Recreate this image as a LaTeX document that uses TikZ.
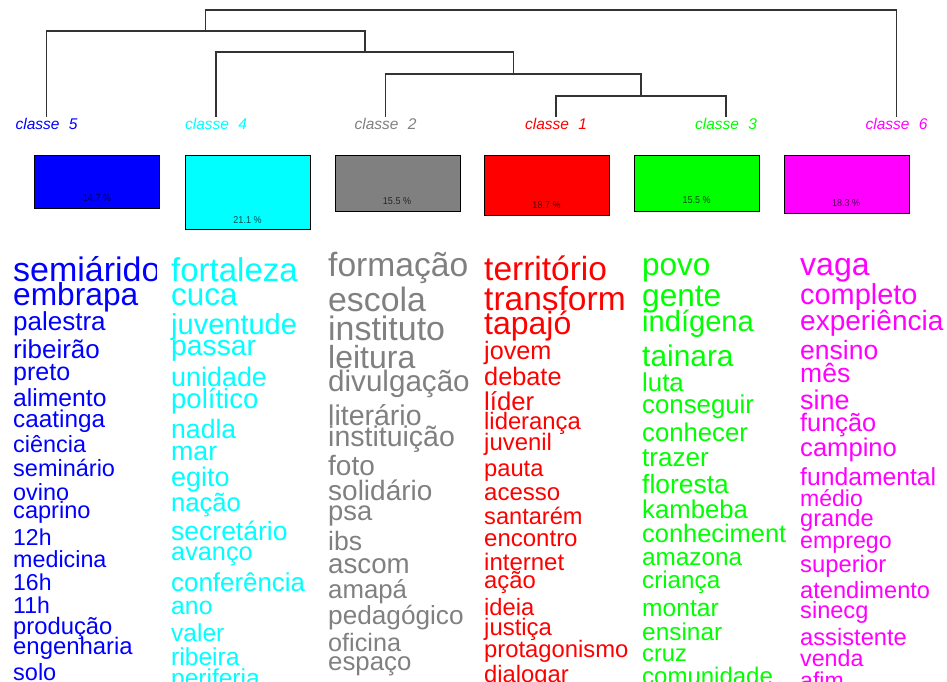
\documentclass[tikz,border=0pt]{standalone}
\usepackage{fontspec}
\setmainfont{Liberation Sans}
\newfontfamily\pctfont[FakeStretch=0.9]{Liberation Sans}

% class colours
\definecolor{cl1}{RGB}{255,0,0}
\definecolor{cl2}{RGB}{128,128,128}
\definecolor{cl3}{RGB}{0,255,0}
\definecolor{cl4}{RGB}{0,255,255}
\definecolor{cl5}{RGB}{0,0,255}
\definecolor{cl6}{RGB}{255,0,255}

\newcommand{\wsize}[1]{\fontsize{#1}{#1}\selectfont}

\begin{document}
\begin{tikzpicture}[x=1pt, y=-1pt,
  tree/.style={draw=black!80, line width=1.3pt},
  klabel/.style={anchor=base, inner sep=0pt, font=\wsize{15.5}\itshape},
  classbox/.style={draw=black, line width=1.2pt, anchor=north west, inner sep=0pt, minimum width=125pt},
  pct/.style={inner sep=0pt, font=\pctfont\wsize{10}, text=black, text opacity=0.7},
  word/.style={anchor=base west, inner sep=0pt}]
\useasboundingbox (0,0) rectangle (947,682);
\clip (0,0) rectangle (947,682);

% Class labels under the tree
\node[klabel, text=cl5] (k5) at (46.5,130) {classe\hspace{0.6em}5};
\node[klabel, text=cl4] (k4) at (216,130) {classe\hspace{0.6em}4};
\node[klabel, text=cl2] (k2) at (385.5,130) {classe\hspace{0.6em}2};
\node[klabel, text=cl1] (k1) at (556,130) {classe\hspace{0.6em}1};
\node[klabel, text=cl3] (k3) at (726,130) {classe\hspace{0.6em}3};
\node[klabel, text=cl6] (k6) at (896.5,130) {classe\hspace{0.6em}6};

% Tops of the leaves and the joins
\coordinate (t5) at (46.5,117);
\coordinate (t4) at (216,117);
\coordinate (t2) at (385.5,117);
\coordinate (t1) at (556,117);
\coordinate (t3) at (726,117);
\coordinate (t6) at (896.5,117);
\coordinate (j13) at (641,96);
\coordinate (j213) at (513.5,74);
\coordinate (j4213) at (365,52);
\coordinate (j54213) at (205.5,31);
\coordinate (jall) at (551,10);

% Draw the tree
\draw[tree] (t1) |- (j13) -| (t3);
\draw[tree] (t2) |- (j213) -| (j13);
\draw[tree] (t4) |- (j4213) -| (j213);
\draw[tree] (t5) |- (j54213) -| (j4213);
\draw[tree] (j54213) |- (jall) -| (t6);

% Boxes with the share of each class
\node[classbox, fill=cl5, minimum height=53pt] (b5) at (34,155) {};
\node[pct] (p5) at (97,198) {14.7 \%};
\node[classbox, fill=cl4, minimum height=74pt] (b4) at (185,155) {};
\node[pct] (p4) at (247.5,220) {21.1 \%};
\node[classbox, fill=cl2, minimum height=56pt] (b2) at (334.5,155) {};
\node[pct] (p2) at (397,201) {15.5 \%};
\node[classbox, fill=cl1, minimum height=60pt] (b1) at (484,155) {};
\node[pct] (p1) at (546.5,205) {18.7 \%};
\node[classbox, fill=cl3, minimum height=56pt] (b3) at (634,155) {};
\node[pct] (p3) at (696.5,200.5) {15.5 \%};
\node[classbox, fill=cl6, minimum height=58pt] (b6) at (783.5,155) {};
\node[pct] (p6) at (846,203.5) {18.3 \%};

% Words of classe 5
\begin{scope}
\clip (0,240) rectangle (156,682);
\node[word, text=cl5, font=\wsize{34}] (w5a) at (13,281.7) {semiárido};
\node[word, text=cl5, font=\wsize{31.7}] (w5b) at (13,305) {embrapa};
\node[word, text=cl5, font=\wsize{26}] (w5c) at (13,330.7) {palestra};
\node[word, text=cl5, font=\wsize{26}] (w5d) at (13,358.3) {ribeirão};
\node[word, text=cl5, font=\wsize{25}] (w5e) at (13,380) {preto};
\node[word, text=cl5, font=\wsize{24.7}] (w5f) at (13,406.7) {alimento};
\node[word, text=cl5, font=\wsize{24.3}] (w5g) at (13,427.7) {caatinga};
\node[word, text=cl5, font=\wsize{23.4}] (w5h) at (13,452) {ciência};
\node[word, text=cl5, font=\wsize{23.5}] (w5i) at (13,476.7) {seminário};
\node[word, text=cl5, font=\wsize{23.4}] (w5j) at (13,500) {ovino};
\node[word, text=cl5, font=\wsize{23.6}] (w5k) at (13,518.3) {caprino};
\node[word, text=cl5, font=\wsize{23}] (w5l) at (13,545) {12h};
\node[word, text=cl5, font=\wsize{23.3}] (w5m) at (13,567.3) {medicina};
\node[word, text=cl5, font=\wsize{23}] (w5n) at (13,590) {16h};
\node[word, text=cl5, font=\wsize{23}] (w5o) at (13,613.3) {11h};
\node[word, text=cl5, font=\wsize{23.8}] (w5p) at (13,634.3) {produção};
\node[word, text=cl5, font=\wsize{23.9}] (w5q) at (13,654) {engenharia};
\node[word, text=cl5, font=\wsize{23.5}] (w5r) at (13,680.5) {solo};
\end{scope}

% Words of classe 4
\node[word, text=cl4, font=\wsize{33}] (w4a) at (171,281.7) {fortaleza};
\node[word, text=cl4, font=\wsize{31.4}] (w4b) at (171,305.7) {cuca};
\node[word, text=cl4, font=\wsize{29}] (w4c) at (171,334.3) {juventude};
\node[word, text=cl4, font=\wsize{28.3}] (w4d) at (171,355) {passar};
\node[word, text=cl4, font=\wsize{26.9}] (w4e) at (171,386.7) {unidade};
\node[word, text=cl4, font=\wsize{27.5}] (w4f) at (171,408.3) {político};
\node[word, text=cl4, font=\wsize{26.6}] (w4g) at (171,438.3) {nadla};
\node[word, text=cl4, font=\wsize{26.7}] (w4h) at (171,460) {mar};
\node[word, text=cl4, font=\wsize{27}] (w4i) at (171,486.7) {egito};
\node[word, text=cl4, font=\wsize{25.6}] (w4j) at (171,511.7) {nação};
\node[word, text=cl4, font=\wsize{26.5}] (w4k) at (171,540) {secretário};
\node[word, text=cl4, font=\wsize{25.3}] (w4l) at (171,560) {avanço};
\node[word, text=cl4, font=\wsize{25.9}] (w4m) at (171,591.7) {conferência};
\node[word, text=cl4, font=\wsize{24.8}] (w4n) at (171,614) {ano};
\node[word, text=cl4, font=\wsize{24.5}] (w4o) at (171,641.7) {valer};
\node[word, text=cl4, font=\wsize{24.6}] (w4p) at (171,665) {ribeira};
\node[word, text=cl4, font=\wsize{24.5}] (w4q) at (171,686) {periferia};

% Words of classe 2
\node[word, text=cl2, font=\wsize{33.6}] (w2a) at (328,276) {formação};
\node[word, text=cl2, font=\wsize{33.8}] (w2b) at (328,311.7) {escola};
\node[word, text=cl2, font=\wsize{33.9}] (w2c) at (328,340) {instituto};
\node[word, text=cl2, font=\wsize{32}] (w2d) at (328,368.3) {leitura};
\node[word, text=cl2, font=\wsize{29.6}] (w2e) at (328,391.7) {divulgação};
\node[word, text=cl2, font=\wsize{28.5}] (w2f) at (328,425) {literário};
\node[word, text=cl2, font=\wsize{28.5}] (w2g) at (328,446.7) {instituição};
\node[word, text=cl2, font=\wsize{28}] (w2h) at (328,475) {foto};
\node[word, text=cl2, font=\wsize{28}] (w2i) at (328,500) {solidário};
\node[word, text=cl2, font=\wsize{27.3}] (w2j) at (328,520) {psa};
\node[word, text=cl2, font=\wsize{26.6}] (w2k) at (328,550) {ibs};
\node[word, text=cl2, font=\wsize{27.7}] (w2l) at (328,573.3) {ascom};
\node[word, text=cl2, font=\wsize{25.8}] (w2m) at (328,598.3) {amapá};
\node[word, text=cl2, font=\wsize{26.2}] (w2n) at (328,624) {pedagógico};
\node[word, text=cl2, font=\wsize{25.2}] (w2o) at (328,651.7) {oficina};
\node[word, text=cl2, font=\wsize{25.8}] (w2p) at (328,670) {espaço};

% Words of classe 1
\node[word, text=cl1, font=\wsize{33.5}] (w1a) at (484,280.7) {território};
\node[word, text=cl1, font=\wsize{33.5}] (w1b) at (484,310.7) {transform};
\node[word, text=cl1, font=\wsize{32}] (w1c) at (484,334) {tapajó};
\node[word, text=cl1, font=\wsize{25.2}] (w1d) at (484,359) {jovem};
\node[word, text=cl1, font=\wsize{25.3}] (w1e) at (484,385) {debate};
\node[word, text=cl1, font=\wsize{25.7}] (w1f) at (484,410) {líder};
\node[word, text=cl1, font=\wsize{23.8}] (w1g) at (484,429.3) {liderança};
\node[word, text=cl1, font=\wsize{23.9}] (w1h) at (484,450.7) {juvenil};
\node[word, text=cl1, font=\wsize{23.7}] (w1i) at (484,476.7) {pauta};
\node[word, text=cl1, font=\wsize{24}] (w1j) at (484,500) {acesso};
\node[word, text=cl1, font=\wsize{23.6}] (w1k) at (484,524) {santarém};
\node[word, text=cl1, font=\wsize{24}] (w1l) at (484,546.7) {encontro};
\node[word, text=cl1, font=\wsize{24}] (w1m) at (484,570) {internet};
\node[word, text=cl1, font=\wsize{23.8}] (w1n) at (484,588.3) {ação};
\node[word, text=cl1, font=\wsize{23.7}] (w1o) at (484,615) {ideia};
\node[word, text=cl1, font=\wsize{23.9}] (w1p) at (484,635) {justiça};
\node[word, text=cl1, font=\wsize{23.8}] (w1q) at (484,657.3) {protagonismo};
\node[word, text=cl1, font=\wsize{23.8}] (w1r) at (484,682) {dialogar};

% Words of classe 3
\node[word, text=cl3, font=\wsize{31.5}] (w3a) at (642,275) {povo};
\node[word, text=cl3, font=\wsize{31.6}] (w3b) at (642,306) {gente};
\node[word, text=cl3, font=\wsize{29.1}] (w3c) at (642,331.7) {indígena};
\node[word, text=cl3, font=\wsize{29.9}] (w3d) at (642,366) {tainara};
\node[word, text=cl3, font=\wsize{25.8}] (w3e) at (642,391.7) {luta};
\node[word, text=cl3, font=\wsize{25.8}] (w3f) at (642,413.3) {conseguir};
\node[word, text=cl3, font=\wsize{25.7}] (w3g) at (642,441.7) {conhecer};
\node[word, text=cl3, font=\wsize{26.1}] (w3h) at (642,466.7) {trazer};
\node[word, text=cl3, font=\wsize{26.4}] (w3i) at (642,493.3) {floresta};
\node[word, text=cl3, font=\wsize{25.7}] (w3j) at (642,518.3) {kambeba};
\node[word, text=cl3, font=\wsize{25.4}] (w3k) at (642,542.7) {conheciment};
\node[word, text=cl3, font=\wsize{24.3}] (w3l) at (642,565) {amazona};
\node[word, text=cl3, font=\wsize{24.2}] (w3m) at (642,588.3) {criança};
\node[word, text=cl3, font=\wsize{24.6}] (w3n) at (642,616.7) {montar};
\node[word, text=cl3, font=\wsize{24.4}] (w3o) at (642,640) {ensinar};
\node[word, text=cl3, font=\wsize{23.7}] (w3p) at (642,661.7) {cruz};
\node[word, text=cl3, font=\wsize{24}] (w3q) at (642,684) {comunidade};

% Words of classe 6
\node[word, text=cl6, font=\wsize{32}] (w6a) at (800,275) {vaga};
\node[word, text=cl6, font=\wsize{28.9}] (w6b) at (800,304) {completo};
\node[word, text=cl6, font=\wsize{28}] (w6c) at (800,330.7) {experiência};
\node[word, text=cl6, font=\wsize{26.5}] (w6d) at (800,359) {ensino};
\node[word, text=cl6, font=\wsize{26.5}] (w6e) at (800,382.7) {mês};
\node[word, text=cl6, font=\wsize{27}] (w6f) at (800,409.3) {sine};
\node[word, text=cl6, font=\wsize{25.3}] (w6g) at (800,431.7) {função};
\node[word, text=cl6, font=\wsize{25.6}] (w6h) at (800,456.7) {campino};
\node[word, text=cl6, font=\wsize{24.7}] (w6i) at (800,485) {fundamental};
\node[word, text=cl6, font=\wsize{23}] (w6j) at (800,506.7) {médio};
\node[word, text=cl6, font=\wsize{23.6}] (w6k) at (800,526.7) {grande};
\node[word, text=cl6, font=\wsize{23.2}] (w6l) at (800,548.3) {emprego};
\node[word, text=cl6, font=\wsize{23.8}] (w6m) at (800,572.7) {superior};
\node[word, text=cl6, font=\wsize{23.6}] (w6n) at (800,598.3) {atendimento};
\node[word, text=cl6, font=\wsize{23.6}] (w6o) at (800,618.3) {sinecg};
\node[word, text=cl6, font=\wsize{23.7}] (w6p) at (800,645) {assistente};
\node[word, text=cl6, font=\wsize{23.2}] (w6q) at (800,666) {venda};
\node[word, text=cl6, font=\wsize{23}] (w6r) at (800,688) {afim};
\end{tikzpicture}
\end{document}
